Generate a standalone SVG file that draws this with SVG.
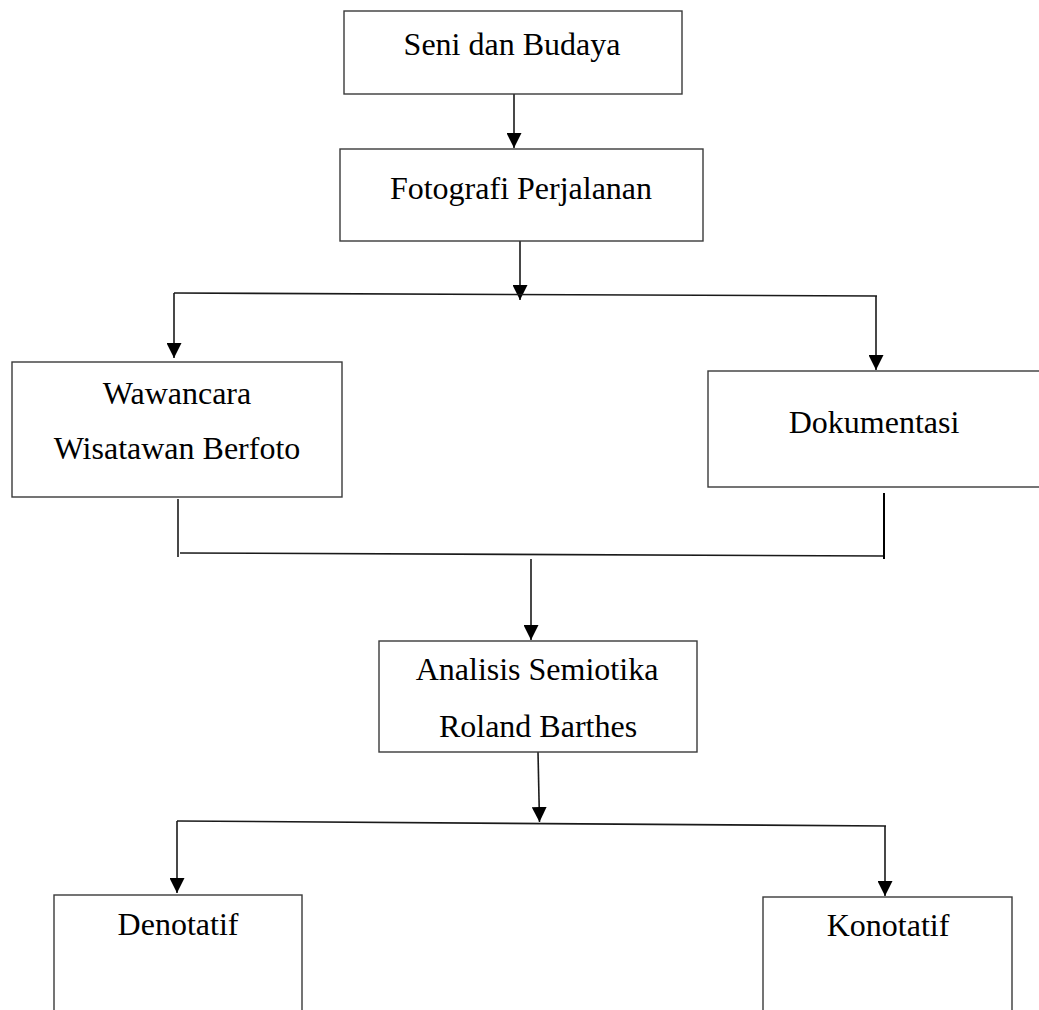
<svg xmlns="http://www.w3.org/2000/svg" width="1039" height="1010" viewBox="0 0 1039 1010">
<style>
.box{fill:#fff;stroke:#3a3a3a;stroke-width:1.4}
.lbl{font-family:"Liberation Serif","Times New Roman",serif;font-size:32px;fill:#000;text-anchor:middle}
.ln{fill:none;stroke:#1a1a1a;stroke-width:1.6}
.arr{fill:none;stroke:#1a1a1a;stroke-width:1.6;marker-end:url(#ah)}
</style>
<defs>
<marker id="ah" viewBox="0 0 10 10" refX="10" refY="5" markerUnits="userSpaceOnUse" markerWidth="15" markerHeight="15" orient="auto">
<path d="M0,0 L10,5 L0,10 z" fill="#000"/>
</marker>
</defs>
<rect width="1039" height="1010" fill="#fff"/>
<g id="connectors">
<line class="arr" x1="514" y1="94" x2="514" y2="148"/>
<line class="arr" x1="520" y1="241" x2="520" y2="300"/>
<line class="ln" x1="174" y1="293" x2="877" y2="296"/>
<line class="arr" x1="174" y1="293" x2="174" y2="358"/>
<line class="arr" x1="876" y1="296" x2="876" y2="370"/>
<line class="ln" x1="178" y1="499" x2="178" y2="557"/>
<line class="ln" x1="180" y1="553" x2="884" y2="556"/>
<line class="ln" x1="884" y1="493" x2="884" y2="559" style="stroke:#000;stroke-width:2"/>
<line class="arr" x1="531" y1="559" x2="531" y2="640"/>
<line class="arr" x1="538" y1="752" x2="539.5" y2="822"/>
<line class="ln" x1="177" y1="821" x2="886" y2="826"/>
<line class="arr" x1="177" y1="821" x2="177" y2="893"/>
<line class="arr" x1="885" y1="826" x2="885" y2="896"/>
</g>
<g id="node-seni">
<rect class="box" x="344" y="11" width="338" height="83"/>
<text class="lbl" x="512" y="55">Seni dan Budaya</text>
</g>
<g id="node-fotografi">
<rect class="box" x="340" y="149" width="363" height="92"/>
<text class="lbl" x="521" y="199">Fotografi Perjalanan</text>
</g>
<g id="node-wawancara">
<rect class="box" x="12" y="362" width="330" height="135"/>
<text class="lbl" x="177" y="404">Wawancara</text>
<text class="lbl" x="177" y="459">Wisatawan Berfoto</text>
</g>
<g id="node-dokumentasi">
<rect class="box" x="708" y="371" width="334" height="116"/>
<text class="lbl" x="874" y="433">Dokumentasi</text>
</g>
<g id="node-analisis">
<rect class="box" x="379" y="641" width="318" height="111"/>
<text class="lbl" x="537" y="680">Analisis Semiotika</text>
<text class="lbl" x="538" y="737">Roland Barthes</text>
</g>
<g id="node-denotatif">
<rect class="box" x="54" y="895" width="248" height="130"/>
<text class="lbl" x="178" y="935">Denotatif</text>
</g>
<g id="node-konotatif">
<rect class="box" x="763" y="897" width="249" height="130"/>
<text class="lbl" x="888" y="936">Konotatif</text>
</g>
</svg>
